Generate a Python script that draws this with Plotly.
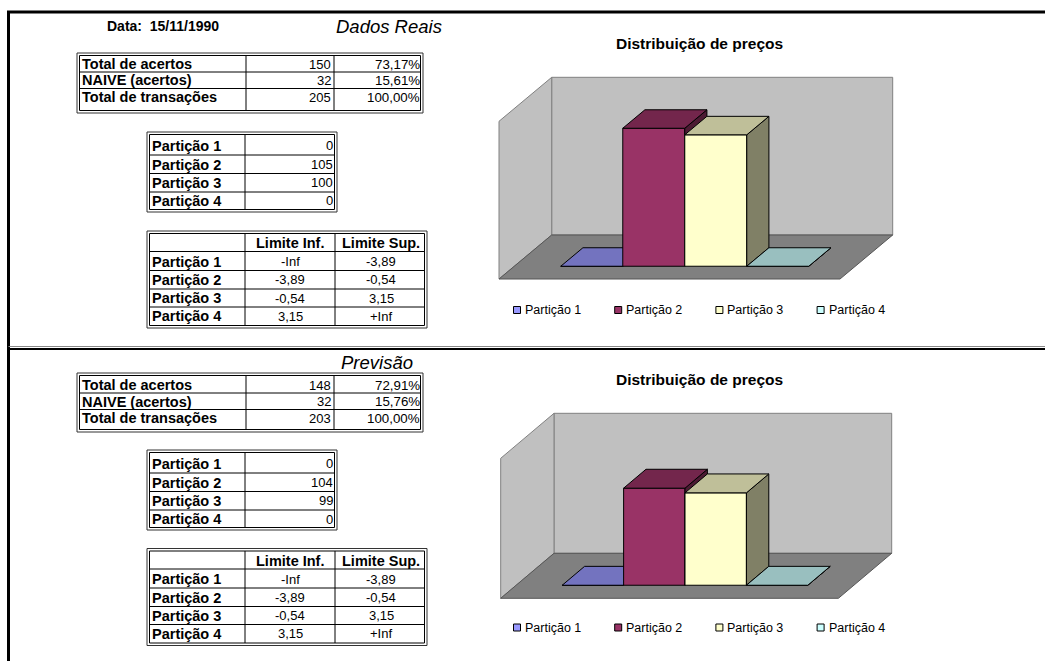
import plotly.graph_objects as go

W, H = 1045, 661
FONT = "Arial, Liberation Sans, sans-serif"

# ---- sheet content ----
date_label = "Data:\u00a0\u00a015/11/1990"
section_titles = ["Dados Reais", "Previsão"]
summary_labels = ["Total de acertos", "NAIVE (acertos)", "Total de transações"]
summary_real = [150, 32, 205]
summary_prev = [148, 32, 203]
partitions = ["Partição 1", "Partição 2", "Partição 3", "Partição 4"]
counts_real = [0, 105, 100, 0]
counts_prev = [0, 104, 99, 0]
limit_headers = ["Limite Inf.", "Limite Sup."]
limit_inf = ["-Inf", "-3,89", "-0,54", "3,15"]
limit_sup = ["-3,89", "-0,54", "3,15", "+Inf"]
chart_title = "Distribuição de preços"
value_axis_max = [120, 150]
series_colors = ["#9999FF", "#993366", "#FFFFCC", "#CCFFFF"]


def fx(px):
    return px / W


def fy(py):
    return 1 - py / H


shapes = []
annotations = []
traces = []


def line(x0, y0, x1, y1, color="black", width=1):
    shapes.append(dict(type="line", xref="paper", yref="paper",
                       x0=fx(x0), y0=fy(y0), x1=fx(x1), y1=fy(y1),
                       line=dict(color=color, width=width)))


def rect(x0, y0, x1, y1, color="black", width=1, fill=None):
    shapes.append(dict(type="rect", xref="paper", yref="paper",
                       x0=fx(x0), y0=fy(y0), x1=fx(x1), y1=fy(y1),
                       line=dict(color=color, width=width),
                       fillcolor=fill if fill else "rgba(0,0,0,0)"))


def text(x, y, s, size=13, anchor="left", bold=False, italic=False):
    if bold:
        s = "<b>" + s + "</b>"
    if italic:
        s = "<i>" + s + "</i>"
    annotations.append(dict(x=fx(x), y=fy(y), xref="paper", yref="paper",
                            text=s, showarrow=False, xanchor=anchor,
                            yanchor="middle", borderpad=0,
                            font=dict(family=FONT, size=size, color="black")))


def grid_table(xe, ye):
    x0, x1, y0, y1 = xe[0], xe[-1], ye[0], ye[-1]
    rect(x0, y0, x1, y1, color="#333333")
    rect(x0 + 2.5, y0 + 2.5, x1 - 2.5, y1 - 2.5, color="black")
    for x in xe[1:-1]:
        line(x, y0 + 2.5, x, y1 - 2.5)
    for y in ye[1:-1]:
        line(x0 + 2.5, y, x1 - 2.5, y)


def pct(v, total):
    return f"{100 * v / total:.2f}".replace(".", ",") + "%"


# ---- frame of the sheet ----
line(8.5, 11, 8.5, H, width=3)
line(7, 12, W, 12, width=3)
line(8.5, 346.5, W, 346.5, color="#888888", width=1)
line(8.5, 349, W, 349, width=2)

# ---- left side: tables ----
sections = [
    dict(title=section_titles[0], title_x=389, title_y=26,
         summary=summary_real, counts=counts_real,
         t1=[53, 72, 88.5, 113], t1y=[64, 80.5, 97],
         t2=[132, 155, 173.5, 192, 212], t2y=[145.5, 164.5, 182.5, 201],
         t3=[231, 251.5, 270.5, 289, 307, 328], t3y=[243, 261.5, 280, 298, 316]),
    dict(title=section_titles[1], title_x=377, title_y=362,
         summary=summary_prev, counts=counts_prev,
         t1=[373, 393, 409.5, 432], t1y=[385, 401.5, 418],
         t2=[450, 473, 491.5, 510, 530], t2y=[463.5, 482.5, 500.5, 519],
         t3=[548.5, 569, 588, 606.5, 624.5, 645.5], t3y=[560.5, 579, 597.5, 615.5, 633.5]),
]

text(162.5, 26, date_label, size=14, anchor="center", bold=True)

for sec in sections:
    text(sec["title_x"], sec["title_y"], sec["title"], size=18.5, anchor="center", italic=True)

    # summary table
    xe1 = [77, 246, 334, 423]
    grid_table(xe1, sec["t1"])
    total = sec["summary"][-1]
    for lab, v, y in zip(summary_labels, sec["summary"], sec["t1y"]):
        text(81, y, lab, size=14.5, bold=True)
        text(332, y, str(v), size=13, anchor="right")
        text(420.5, y, pct(v, total), size=13.3, anchor="right")

    # partition counts
    xe2 = [147, 245, 337]
    grid_table(xe2, sec["t2"])
    for lab, v, y in zip(partitions, sec["counts"], sec["t2y"]):
        text(151, y, lab, size=14.5, bold=True)
        text(333.5, y, str(v), size=13, anchor="right")

    # partition limits
    xe3 = [147, 245, 335, 427]
    grid_table(xe3, sec["t3"])
    text(290, sec["t3y"][0], limit_headers[0], size=14.5, anchor="center", bold=True)
    text(381, sec["t3y"][0], limit_headers[1], size=14.5, anchor="center", bold=True)
    for lab, lo, hi, y in zip(partitions, limit_inf, limit_sup, sec["t3y"][1:]):
        text(151, y, lab, size=14.5, bold=True)
        text(290, y, lo, size=13, anchor="center")
        text(381, y, hi, size=13, anchor="center")


# ---- right side: 3-D column charts ----
def shade(hex_color, f):
    h = hex_color.lstrip("#")
    r, g, b = (int(h[i:i + 2], 16) for i in (0, 2, 4))
    return "#%02x%02x%02x" % (round(r * f), round(g * f), round(b * f))


charts = [
    dict(origin=(499, 279), bar_px=62.0, val_px=157.7 / 120, depth=(52.7, -44.0),
         title_y=44, legend_y=310, values=counts_real, vmax=value_axis_max[0]),
    dict(origin=(500.7, 598.3), bar_px=61.4, val_px=140.0 / 150, depth=(53.3, -45.0),
         title_y=379.5, legend_y=627.5, values=counts_prev, vmax=value_axis_max[1]),
]

GAP = 0.75          # half of the 150% gap width, in bar widths
D0, D1 = 0.29, 0.71  # depth span of each column
n_series = len(partitions)
floor_w = n_series + 2 * GAP

layout_axes = {}
for k, ch in enumerate(charts):
    ox, oy = ch["origin"]
    bp, vp = ch["bar_px"], ch["val_px"]
    ddx, ddy = ch["depth"]
    kx = ddx / bp
    ky = -ddy / vp
    xname = "x" if k == 0 else f"x{k + 1}"
    yname = "y" if k == 0 else f"y{k + 1}"

    L = ox - 20
    R = ox + floor_w * bp + ddx + 20
    B = oy + 20
    T = oy - ch["vmax"] * vp + ddy - 20
    layout_axes["xaxis" if k == 0 else f"xaxis{k + 1}"] = dict(
        domain=[fx(L), fx(R)], range=[(L - ox) / bp, (R - ox) / bp],
        visible=False, fixedrange=True, anchor=yname)
    layout_axes["yaxis" if k == 0 else f"yaxis{k + 1}"] = dict(
        domain=[fy(B), fy(T)], range=[(oy - B) / vp, (oy - T) / vp],
        visible=False, fixedrange=True, anchor=xname)

    def proj(u, v, d):
        return u + d * kx, v + d * ky

    def poly(pts, fill, lc, lw=1):
        xs, ys = zip(*[proj(*p) for p in pts])
        xs = list(xs) + [xs[0]]
        ys = list(ys) + [ys[0]]
        traces.append(go.Scatter(x=xs, y=ys, mode="lines", fill="toself",
                                 fillcolor=fill, line=dict(color=lc, width=lw),
                                 hoverinfo="skip", showlegend=False,
                                 xaxis=xname, yaxis=yname))

    vmax = ch["vmax"]
    # walls and floor
    poly([(0, 0, 1), (floor_w, 0, 1), (floor_w, vmax, 1), (0, vmax, 1)], "#C0C0C0", "#808080")
    poly([(0, 0, 0), (0, 0, 1), (0, vmax, 1), (0, vmax, 0)], "#C0C0C0", "#808080")
    poly([(0, 0, 0), (floor_w, 0, 0), (floor_w, 0, 1), (0, 0, 1)], "#808080", "#555555")

    # columns, left to right
    for i, (v, c) in enumerate(zip(ch["values"], series_colors)):
        a = GAP + i
        b = a + 1
        poly([(a, 0, D0), (b, 0, D0), (b, v, D0), (a, v, D0)], c, "black")
        poly([(b, 0, D0), (b, 0, D1), (b, v, D1), (b, v, D0)], shade(c, 0.5), "black")
        poly([(a, v, D0), (b, v, D0), (b, v, D1), (a, v, D1)], shade(c, 0.75), "black")

    # title and legend
    text(699, ch["title_y"], chart_title, size=15.5, anchor="center", bold=True)
    for i, (lab, c) in enumerate(zip(partitions, series_colors)):
        mx = 513.5 + i * 101.2
        my = ch["legend_y"]
        rect(mx, my - 3.5, mx + 7, my + 3.5, color="black", width=1, fill=c)
        text(mx + 10.5, my, lab, size=12.5)

fig = go.Figure(traces)
fig.update_layout(
    width=W, height=H, autosize=False,
    margin=dict(l=0, r=0, t=0, b=0, pad=0),
    paper_bgcolor="white", plot_bgcolor="rgba(0,0,0,0)",
    showlegend=False, hovermode=False,
    shapes=shapes, annotations=annotations,
    **layout_axes,
)
fig.write_html("out.html", config={"displayModeBar": False})
